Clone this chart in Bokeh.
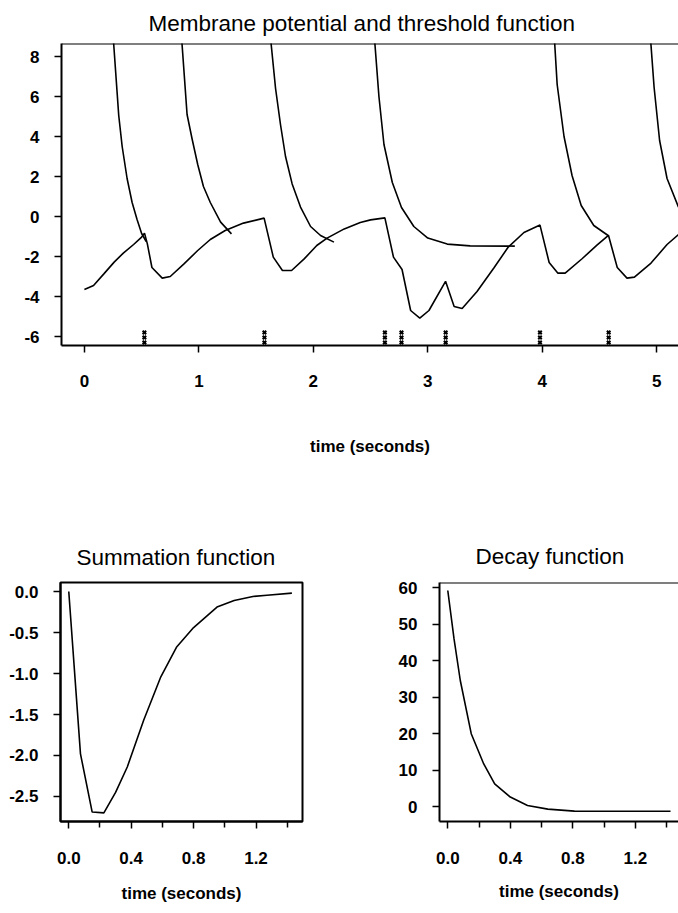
from bokeh.plotting import figure
from bokeh.models import Span, FixedTicker, Range1d, CustomJSTickFormatter
from bokeh.layouts import column, row
from bokeh.embed import file_html
from bokeh.resources import INLINE

FONT = "Liberation Sans"

# ---------------- data ----------------
# membrane potential
mem_t = [0.0, 0.08, 0.17, 0.26, 0.34, 0.43, 0.50, 0.525,
         0.55, 0.59, 0.68, 0.75, 0.87, 0.99, 1.10, 1.23, 1.39, 1.57,
         1.65, 1.73, 1.81, 1.92, 2.03, 2.12, 2.27, 2.41, 2.50, 2.625,
         2.70, 2.775, 2.85, 2.93, 3.01, 3.155, 3.23, 3.30, 3.43, 3.58, 3.70, 3.84, 3.98,
         4.06, 4.135, 4.20, 4.35, 4.48, 4.578,
         4.655, 4.74, 4.805, 4.95, 5.09, 5.19]
mem_v = [-3.65, -3.45, -2.87, -2.28, -1.83, -1.40, -1.03, -0.83,
         -1.37, -2.55, -3.08, -3.00, -2.37, -1.70, -1.15, -0.70, -0.33, -0.08,
         -2.03, -2.70, -2.70, -2.12, -1.45, -1.08, -0.62, -0.30, -0.17, -0.07,
         -2.03, -2.65, -4.70, -5.08, -4.70, -3.24, -4.50, -4.60, -3.75, -2.55, -1.55, -0.80, -0.43,
         -2.30, -2.83, -2.83, -2.10, -1.42, -0.94,
         -2.55, -3.08, -3.03, -2.33, -1.40, -0.90]

# threshold function after each reset
thr1_t = [0.255, 0.30, 0.33, 0.373, 0.417, 0.46, 0.50, 0.54]
thr1_v = [8.7, 5.05, 3.5, 1.9, 0.7, -0.15, -0.85, -1.25]
thr2_t = [0.852, 0.897, 0.94, 0.99, 1.04, 1.10, 1.19, 1.285]
thr2_v = [8.7, 5.1, 3.9, 2.6, 1.5, 0.7, -0.28, -0.87]
thr3_t = [1.63, 1.67, 1.713, 1.757, 1.815, 1.888, 1.976, 2.063, 2.18]
thr3_v = [8.7, 6.4, 4.6, 3.0, 1.63, 0.47, -0.5, -0.95, -1.28]
thr4_t = [2.537, 2.573, 2.617, 2.69, 2.77, 2.878, 3.00, 3.17, 3.37, 3.76]
thr4_v = [8.7, 6.0, 3.6, 1.7, 0.45, -0.5, -1.08, -1.38, -1.47, -1.48]
thr5_t = [4.108, 4.13, 4.16, 4.19, 4.26, 4.34, 4.45, 4.575]
thr5_v = [8.7, 6.6, 5.3, 4.0, 2.05, 0.55, -0.45, -0.95]
thr6_t = [4.948, 4.977, 5.025, 5.09, 5.19]
thr6_v = [8.7, 6.45, 3.8, 1.9, 0.47]

# spike times
spike_t = [0.524, 1.573, 2.625, 2.77, 3.156, 3.98, 4.58]
spike_marks = [-6.3, -6.05, -5.8]

top_xticks = [0, 1, 2, 3, 4, 5]
top_yticks = [-6, -4, -2, 0, 2, 4, 6, 8]

# summation function
sum_t = [0.0, 0.075, 0.15, 0.225, 0.30, 0.375, 0.48, 0.59, 0.69, 0.80, 0.95, 1.06, 1.18, 1.27, 1.43]
sum_v = [0.0, -1.98, -2.69, -2.70, -2.45, -2.14, -1.57, -1.04, -0.68, -0.44, -0.19, -0.11, -0.06, -0.045, -0.02]
sum_yticks = [0.0, -0.5, -1.0, -1.5, -2.0, -2.5]

# decay function
dec_t = [0.0, 0.04, 0.08, 0.15, 0.23, 0.30, 0.40, 0.51, 0.64, 0.81, 1.0, 1.2, 1.425]
dec_v = [59.3, 46.0, 34.6, 20.0, 11.7, 6.2, 2.6, 0.3, -0.7, -1.25, -1.3, -1.3, -1.3]
dec_yticks = [0, 10, 20, 30, 40, 50, 60]

bottom_xticks = [0.0, 0.4, 0.8, 1.2]
bottom_xminor = [0.2, 0.6, 1.0, 1.4]

TITLE_SIZE = "22.5px"


def style(p, standoff, offset):
    p.title.text_font = FONT
    p.title.text_font_style = "normal"
    p.title.text_font_size = TITLE_SIZE
    p.title.text_color = "black"
    p.title.align = "left"
    p.title.standoff = standoff
    p.title.offset = offset
    p.grid.visible = False
    p.background_fill_color = "white"
    p.border_fill_color = "white"
    for ax in p.axis:
        ax.axis_line_width = 2
        ax.axis_line_color = "black"
        ax.major_tick_line_width = 1.5
        ax.major_tick_in = 0
        ax.major_tick_out = 7
        ax.minor_tick_line_color = None
        ax.major_label_text_font = FONT
        ax.major_label_text_font_style = "bold"
        ax.major_label_text_font_size = "17px"
        ax.major_label_text_color = "black"
        ax.axis_label_text_font = FONT
        ax.axis_label_text_font_style = "bold"
        ax.axis_label_text_font_size = "17px"
        ax.axis_label_text_color = "black"
    p.yaxis.major_label_standoff = 15


# ---------------- top figure ----------------
top = figure(width=678, height=470, output_backend="svg", toolbar_location=None,
             x_range=Range1d(-0.2, 5.19), y_range=Range1d(-6.45, 8.65),
             title="Membrane potential and threshold function",
             min_border_left=61, min_border_right=0, min_border_top=43, min_border_bottom=125)
style(top, 16, 87)
top.outline_line_color = None
top.xaxis.ticker = FixedTicker(ticks=top_xticks)
top.yaxis.ticker = FixedTicker(ticks=top_yticks)
top.xaxis.formatter = CustomJSTickFormatter(code="return tick.toFixed(0);")
top.yaxis.formatter = CustomJSTickFormatter(code="return tick.toFixed(0);")
top.xaxis.axis_label = "time (seconds)"
top.xaxis.major_label_standoff = 22
top.xaxis.axis_label_standoff = 47
top.add_layout(Span(location=8.65, dimension="width", line_color="black", line_width=2))

top.line(mem_t, mem_v, line_color="black", line_width=1.6)
for tt, vv in [(thr1_t, thr1_v), (thr2_t, thr2_v), (thr3_t, thr3_v),
               (thr4_t, thr4_v), (thr5_t, thr5_v), (thr6_t, thr6_v)]:
    top.line(tt, vv, line_color="black", line_width=1.6)
for m in spike_marks:
    top.scatter(spike_t, [m] * len(spike_t), marker="x", size=5,
                line_color="black", line_width=2)

# ---------------- summation figure ----------------
sfig = figure(width=339, height=443, output_backend="svg", toolbar_location=None,
              x_range=Range1d(-0.053, 1.498), y_range=Range1d(-2.805, 0.11),
              title="Summation function",
              min_border_left=60, min_border_right=37, min_border_top=112, min_border_bottom=92)
style(sfig, 26, 16)
sfig.outline_line_color = "black"
sfig.outline_line_width = 2
sfig.xaxis.ticker = FixedTicker(ticks=bottom_xticks, minor_ticks=bottom_xminor)
sfig.yaxis.ticker = FixedTicker(ticks=sum_yticks)
sfig.yaxis.formatter = CustomJSTickFormatter(code="return tick.toFixed(1);")
sfig.xaxis.formatter = CustomJSTickFormatter(code="return tick.toFixed(1);")
sfig.xaxis.minor_tick_line_color = "black"
sfig.xaxis.minor_tick_line_width = 1.5
sfig.xaxis.minor_tick_in = 0
sfig.xaxis.minor_tick_out = 6
sfig.xaxis.axis_label = "time (seconds)"
sfig.xaxis.major_label_standoff = 23
sfig.xaxis.axis_label_standoff = 17
sfig.line(sum_t, sum_v, line_color="black", line_width=1.6)

# ---------------- decay figure ----------------
dfig = figure(width=339, height=443, output_backend="svg", toolbar_location=None,
              x_range=Range1d(-0.053, 1.476), y_range=Range1d(-4.1, 61.5),
              title="Decay function",
              min_border_left=100, min_border_right=0, min_border_top=112, min_border_bottom=92)
style(dfig, 27, 36)
dfig.outline_line_color = None
dfig.add_layout(Span(location=61.5, dimension="width", line_color="black", line_width=2))
dfig.xaxis.ticker = FixedTicker(ticks=bottom_xticks, minor_ticks=bottom_xminor)
dfig.xaxis.formatter = CustomJSTickFormatter(code="return tick.toFixed(1);")
dfig.yaxis.ticker = FixedTicker(ticks=dec_yticks)
dfig.yaxis.formatter = CustomJSTickFormatter(code="return tick.toFixed(0);")
dfig.xaxis.minor_tick_line_color = "black"
dfig.xaxis.minor_tick_line_width = 1.5
dfig.xaxis.minor_tick_in = 0
dfig.xaxis.minor_tick_out = 6
dfig.xaxis.axis_label = "time (seconds)"
dfig.xaxis.major_label_standoff = 23
dfig.xaxis.axis_label_standoff = 15
dfig.line(dec_t, dec_v, line_color="black", line_width=1.6)

layout = column(top, row(sfig, dfig, spacing=0), spacing=0)

with open("out.html", "w") as f:
    f.write(file_html(layout, INLINE))
